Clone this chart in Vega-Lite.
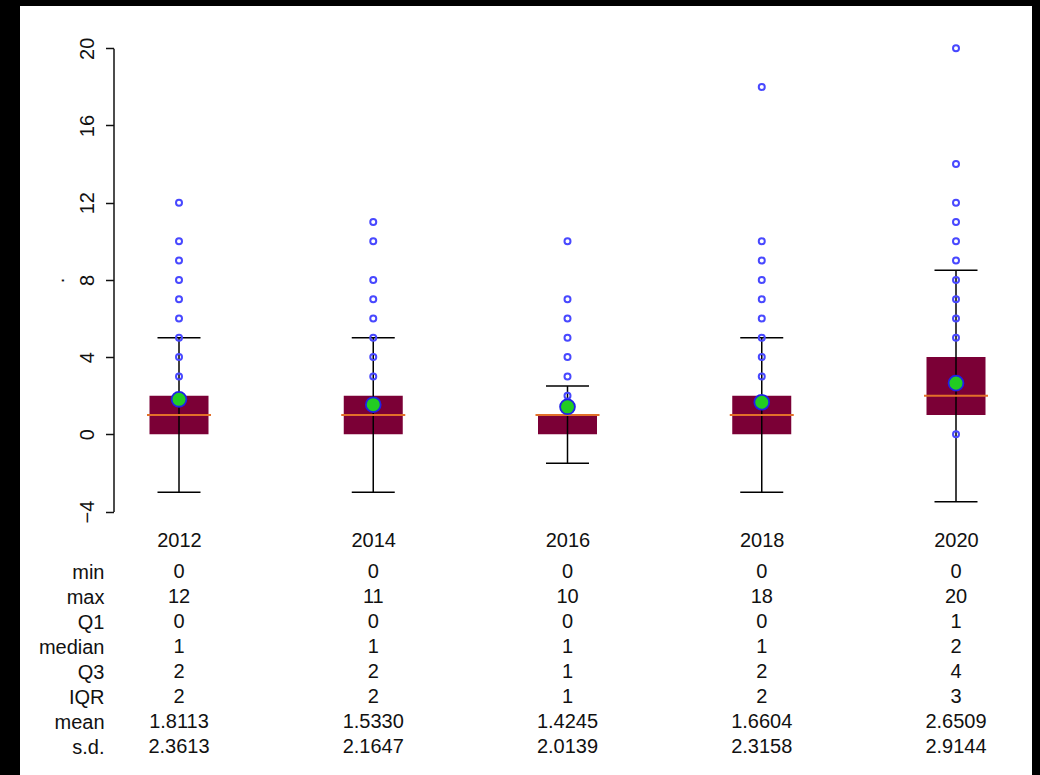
{
  "$schema": "https://vega.github.io/schema/vega-lite/v6.json",
  "width": 1040,
  "height": 775,
  "autosize": {"type": "fit", "contains": "padding"},
  "padding": {"left": 20, "top": 6, "right": 8, "bottom": 0},
  "background": "#000000",
  "config": {
    "view": {"stroke": null, "fill": "#ffffff"},
    "font": "Liberation Sans",
    "axis": {"labelFont": "Liberation Sans", "titleFont": "Liberation Sans", "labelColor": "#111111", "titleColor": "#111111", "grid": false}
  },
  "datasets": {
    "box": [
      {"year": "2012", "q1": 0, "median": 1, "q3": 2, "lo": -3, "hi": 5, "mean": 1.8113},
      {"year": "2014", "q1": 0, "median": 1, "q3": 2, "lo": -3, "hi": 5, "mean": 1.533},
      {"year": "2016", "q1": 0, "median": 1, "q3": 1, "lo": -1.5, "hi": 2.5, "mean": 1.4245},
      {"year": "2018", "q1": 0, "median": 1, "q3": 2, "lo": -3, "hi": 5, "mean": 1.6604},
      {"year": "2020", "q1": 1, "median": 2, "q3": 4, "lo": -3.5, "hi": 8.5, "mean": 2.6509}
    ],
    "out": [
      {"year": "2012", "v": 12}, {"year": "2012", "v": 10}, {"year": "2012", "v": 9}, {"year": "2012", "v": 8}, {"year": "2012", "v": 7}, {"year": "2012", "v": 6}, {"year": "2012", "v": 5}, {"year": "2012", "v": 4}, {"year": "2012", "v": 3},
      {"year": "2014", "v": 11}, {"year": "2014", "v": 10}, {"year": "2014", "v": 8}, {"year": "2014", "v": 7}, {"year": "2014", "v": 6}, {"year": "2014", "v": 5}, {"year": "2014", "v": 4}, {"year": "2014", "v": 3},
      {"year": "2016", "v": 10}, {"year": "2016", "v": 7}, {"year": "2016", "v": 6}, {"year": "2016", "v": 5}, {"year": "2016", "v": 4}, {"year": "2016", "v": 3}, {"year": "2016", "v": 2},
      {"year": "2018", "v": 18}, {"year": "2018", "v": 10}, {"year": "2018", "v": 9}, {"year": "2018", "v": 8}, {"year": "2018", "v": 7}, {"year": "2018", "v": 6}, {"year": "2018", "v": 5}, {"year": "2018", "v": 4}, {"year": "2018", "v": 3},
      {"year": "2020", "v": 20}, {"year": "2020", "v": 14}, {"year": "2020", "v": 12}, {"year": "2020", "v": 11}, {"year": "2020", "v": 10}, {"year": "2020", "v": 9}, {"year": "2020", "v": 8}, {"year": "2020", "v": 7}, {"year": "2020", "v": 6}, {"year": "2020", "v": 5}, {"year": "2020", "v": 0}
    ],
    "table": [
      {"year": "2012", "stat": "min", "value": "0"}, {"year": "2012", "stat": "max", "value": "12"}, {"year": "2012", "stat": "Q1", "value": "0"}, {"year": "2012", "stat": "median", "value": "1"}, {"year": "2012", "stat": "Q3", "value": "2"}, {"year": "2012", "stat": "IQR", "value": "2"}, {"year": "2012", "stat": "mean", "value": "1.8113"}, {"year": "2012", "stat": "s.d.", "value": "2.3613"},
      {"year": "2014", "stat": "min", "value": "0"}, {"year": "2014", "stat": "max", "value": "11"}, {"year": "2014", "stat": "Q1", "value": "0"}, {"year": "2014", "stat": "median", "value": "1"}, {"year": "2014", "stat": "Q3", "value": "2"}, {"year": "2014", "stat": "IQR", "value": "2"}, {"year": "2014", "stat": "mean", "value": "1.5330"}, {"year": "2014", "stat": "s.d.", "value": "2.1647"},
      {"year": "2016", "stat": "min", "value": "0"}, {"year": "2016", "stat": "max", "value": "10"}, {"year": "2016", "stat": "Q1", "value": "0"}, {"year": "2016", "stat": "median", "value": "1"}, {"year": "2016", "stat": "Q3", "value": "1"}, {"year": "2016", "stat": "IQR", "value": "1"}, {"year": "2016", "stat": "mean", "value": "1.4245"}, {"year": "2016", "stat": "s.d.", "value": "2.0139"},
      {"year": "2018", "stat": "min", "value": "0"}, {"year": "2018", "stat": "max", "value": "18"}, {"year": "2018", "stat": "Q1", "value": "0"}, {"year": "2018", "stat": "median", "value": "1"}, {"year": "2018", "stat": "Q3", "value": "2"}, {"year": "2018", "stat": "IQR", "value": "2"}, {"year": "2018", "stat": "mean", "value": "1.6604"}, {"year": "2018", "stat": "s.d.", "value": "2.3158"},
      {"year": "2020", "stat": "min", "value": "0"}, {"year": "2020", "stat": "max", "value": "20"}, {"year": "2020", "stat": "Q1", "value": "1"}, {"year": "2020", "stat": "median", "value": "2"}, {"year": "2020", "stat": "Q3", "value": "4"}, {"year": "2020", "stat": "IQR", "value": "3"}, {"year": "2020", "stat": "mean", "value": "2.6509"}, {"year": "2020", "stat": "s.d.", "value": "2.9144"}
    ]
  },
  "encoding": {
    "x": {
      "field": "year",
      "type": "ordinal",
      "scale": {"type": "point", "range": [159, 936], "padding": 0},
      "axis": {"orient": "bottom", "offset": -235, "domain": false, "ticks": false, "labelPadding": 0, "labelFontSize": 20, "labelBaseline": "middle", "labelAngle": 0, "title": null}
    }
  },
  "layer": [
    {
      "data": {"name": "box"},
      "layer": [
        {
          "mark": {"type": "bar", "width": 59, "color": "#7b0036"},
          "encoding": {
            "y": {
              "field": "q1",
              "type": "quantitative",
              "scale": {"domain": [-4, 20], "range": [505.5, 42.3], "nice": false, "zero": false},
              "axis": {"orient": "left", "offset": -93.5, "values": [-4, 0, 4, 8, 12, 16, 20], "tickSize": 8, "tickWidth": 1.5, "domainWidth": 1.5, "domainColor": "#111111", "tickColor": "#111111", "labelAngle": 270, "labelAlign": "center", "labelBaseline": "alphabetic", "labelPadding": 12, "labelFontSize": 20, "titleFontSize": 20, "titleFontWeight": "normal", "titleAngle": 270, "titlePadding": 14, "titleBaseline": "alphabetic"},
              "title": "."
            },
            "y2": {"field": "q3"}
          }
        },
        {
          "mark": {"type": "rule", "color": "#000000", "strokeWidth": 1.5},
          "encoding": {"y": {"field": "lo", "type": "quantitative"}, "y2": {"field": "hi"}}
        },
        {
          "mark": {"type": "tick", "orient": "horizontal", "size": 43, "thickness": 1.5, "color": "#000000", "opacity": 1},
          "encoding": {"y": {"field": "lo", "type": "quantitative"}}
        },
        {
          "mark": {"type": "tick", "orient": "horizontal", "size": 43, "thickness": 1.5, "color": "#000000", "opacity": 1},
          "encoding": {"y": {"field": "hi", "type": "quantitative"}}
        },
        {
          "mark": {"type": "tick", "orient": "horizontal", "size": 64, "thickness": 2, "color": "#e2702a", "opacity": 1},
          "encoding": {"y": {"field": "median", "type": "quantitative"}}
        },
        {
          "data": {"name": "out"},
          "mark": {"type": "point", "filled": false, "size": 36, "strokeWidth": 2, "color": "#4848ff", "opacity": 1},
          "encoding": {"y": {"field": "v", "type": "quantitative"}}
        },
        {
          "mark": {"type": "point", "filled": true, "fill": "#22cc22", "stroke": "#2020e8", "strokeWidth": 1.8, "size": 220, "opacity": 1},
          "encoding": {"y": {"field": "mean", "type": "quantitative"}}
        }
      ]
    },
    {
      "data": {"name": "table"},
      "mark": {"type": "text", "fontSize": 20, "color": "#111111", "baseline": "middle", "align": "center", "font": "Liberation Sans"},
      "encoding": {
        "y": {
          "field": "stat",
          "type": "ordinal",
          "scale": {"type": "point", "domain": ["min", "max", "Q1", "median", "Q3", "IQR", "mean", "s.d."], "range": [566, 741], "padding": 0},
          "axis": {"orient": "left", "offset": -84, "domain": false, "ticks": false, "labelPadding": 0, "labelFontSize": 20, "labelAlign": "right", "labelBaseline": "middle", "title": null}
        },
        "text": {"field": "value"}
      }
    }
  ],
  "resolve": {"scale": {"y": "independent"}, "axis": {"y": "independent"}}
}
